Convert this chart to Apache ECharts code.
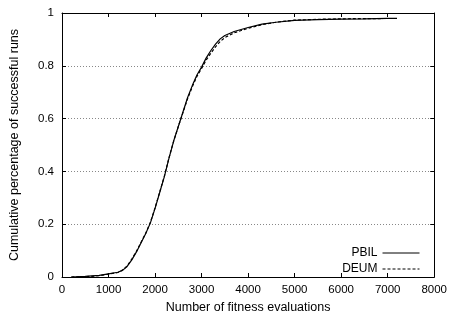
<!DOCTYPE html>
<html>
<head>
<meta charset="utf-8">
<script src="https://cdn.jsdelivr.net/npm/echarts@6/dist/echarts.min.js"></script>
<style>
  html, body { margin: 0; padding: 0; background: #fff; }
  #chart { width: 450px; height: 320px; }
</style>
</head>
<body>
<div id="chart"></div>
<script>
// Cumulative share of successful runs against fitness evaluations used
const pbilEvals = [200, 500, 800, 1000, 1200, 1300, 1400, 1500, 1600, 1700, 1800, 1900, 2000, 2100, 2200, 2300, 2400, 2500, 2600, 2700, 2800, 2900, 3000, 3100, 3200, 3300, 3400, 3500, 3700, 4000, 4300, 4600, 5000, 5500, 6000, 6500, 7000, 7200];
const pbilRate  = [0, 0.002, 0.006, 0.012, 0.018, 0.025, 0.04, 0.065, 0.095, 0.13, 0.165, 0.205, 0.26, 0.32, 0.38, 0.45, 0.515, 0.57, 0.625, 0.68, 0.725, 0.765, 0.795, 0.83, 0.858, 0.882, 0.902, 0.915, 0.93, 0.945, 0.958, 0.965, 0.972, 0.975, 0.977, 0.978, 0.98, 0.98];

const deumEvals = [200, 500, 800, 1000, 1200, 1300, 1400, 1500, 1600, 1700, 1800, 1900, 2000, 2100, 2200, 2300, 2400, 2500, 2600, 2700, 2800, 2900, 3000, 3100, 3200, 3300, 3400, 3500, 3700, 4000, 4300, 4600, 5000, 5500, 6000, 6500, 6900];
const deumRate  = [0, 0.001, 0.005, 0.011, 0.017, 0.026, 0.042, 0.068, 0.097, 0.132, 0.166, 0.207, 0.262, 0.322, 0.382, 0.452, 0.515, 0.57, 0.623, 0.676, 0.72, 0.76, 0.79, 0.822, 0.848, 0.872, 0.892, 0.907, 0.925, 0.942, 0.956, 0.965, 0.973, 0.976, 0.978, 0.979, 0.979];

const xTicks = { min: 0, max: 8000, step: 1000 };
const yTicks = { min: 0, max: 1, step: 0.2 };

const font = 'Liberation Sans, Arial, sans-serif';
const ink = '#000';

function pairs(xs, ys) { return xs.map((x, i) => [x, ys[i]]); }

const chart = echarts.init(document.getElementById('chart'), null, { renderer: 'canvas' });

const tickStyle = { show: true, inside: true, length: 4, lineStyle: { color: ink, width: 1 } };
const lineStyle = { show: true, onZero: false, lineStyle: { color: ink, width: 1 } };

chart.setOption({
  animation: false,
  backgroundColor: '#fff',
  grid: { left: 59, right: 15, top: 13, bottom: 43, containLabel: false },
  legend: {
    orient: 'vertical',
    right: 25,
    top: 242,
    align: 'right',
    itemWidth: 37,
    itemHeight: 10,
    itemGap: 4,
    itemStyle: { opacity: 0 },
    lineStyle: { width: 1 },
    textStyle: { fontFamily: font, fontSize: 12, color: ink },
    data: ['PBIL', 'DEUM']
  },
  xAxis: [
    {
      type: 'value', position: 'bottom',
      min: xTicks.min, max: xTicks.max, interval: xTicks.step,
      name: 'Number of fitness evaluations', nameLocation: 'middle', nameGap: 23,
      nameTextStyle: { fontFamily: font, fontSize: 12.5, color: ink },
      axisLine: lineStyle, axisTick: tickStyle,
      axisLabel: { fontFamily: font, fontSize: 11.5, color: ink, margin: 7,
        formatter: v => String(v) },
      splitLine: { show: false }
    },
    {
      type: 'value', position: 'top',
      min: xTicks.min, max: xTicks.max, interval: xTicks.step,
      axisLine: lineStyle, axisTick: tickStyle,
      axisLabel: { show: false }, splitLine: { show: false }
    }
  ],
  yAxis: [
    {
      type: 'value', position: 'left',
      min: yTicks.min, max: yTicks.max, interval: yTicks.step,
      name: 'Cumulative percentage of successful runs', nameLocation: 'middle', nameGap: 41,
      nameTextStyle: { fontFamily: font, fontSize: 12.5, color: ink },
      axisLine: lineStyle, axisTick: tickStyle,
      axisLabel: { fontFamily: font, fontSize: 11.5, color: ink, margin: 8,
        formatter: v => String(Math.round(v * 10) / 10) },
      splitLine: { show: true, lineStyle: { color: '#888', type: [1, 2], width: 1 } }
    },
    {
      type: 'value', position: 'right',
      min: yTicks.min, max: yTicks.max, interval: yTicks.step,
      axisLine: lineStyle, axisTick: tickStyle,
      axisLabel: { show: false }, splitLine: { show: false }
    }
  ],
  series: [
    {
      name: 'PBIL', type: 'line', xAxisIndex: 0, yAxisIndex: 0,
      data: pairs(pbilEvals, pbilRate),
      symbol: 'none', smooth: false,
      lineStyle: { color: ink, width: 1.2, type: 'solid' },
      itemStyle: { color: ink }
    },
    {
      name: 'DEUM', type: 'line', xAxisIndex: 0, yAxisIndex: 0,
      data: pairs(deumEvals, deumRate),
      symbol: 'none', smooth: false,
      lineStyle: { color: ink, width: 1.2, type: [3, 2] },
      itemStyle: { color: ink }
    }
  ]
});
</script>
</body>
</html>
